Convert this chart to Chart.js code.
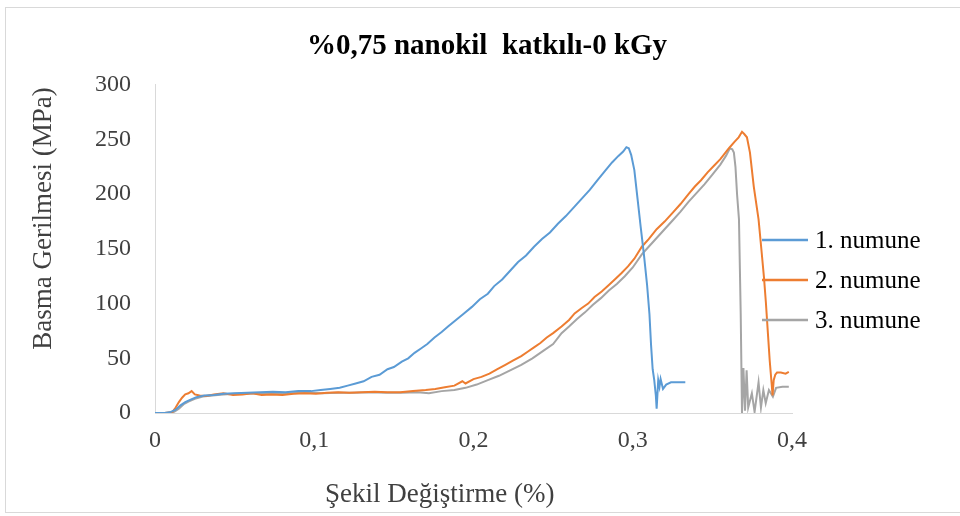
<!DOCTYPE html>
<html>
<head>
<meta charset="utf-8">
<script src="https://cdn.jsdelivr.net/npm/chart.js@4"></script>
<style>
body{margin:0;background:#fff;}
#wrap{position:relative;width:960px;height:516px;overflow:hidden;}
#frame{position:absolute;left:5px;top:7px;width:980px;height:504px;border:1px solid #d9d9d9;}
#c{position:absolute;left:0;top:0;}
</style>
</head>
<body>
<div id="wrap">
<div id="frame"></div>
<canvas id="c" width="960" height="516"></canvas>
</div>
<script>
var titleText = '%0,75 nanokil  katkılı-0 kGy';
var xTitle = 'Şekil Değiştirme (%)';
var yTitle = 'Basma Gerilmesi (MPa)';
var seriesNames = ['1. numune', '2. numune', '3. numune'];
var seriesColors = ['#5B9BD5', '#ED7D31', '#A5A5A5'];
var xTickLabels = ['0', '0,1', '0,2', '0,3', '0,4'];
var yTicks = [0, 50, 100, 150, 200, 250, 300];

// 1. numune
var strain1 = [0,0.006,0.010,0.013,0.016,0.019,0.022,0.026,0.031,0.037,0.043,0.050,0.058,0.066,0.074,0.082,0.090,0.098,0.104,0.110,
  0.116,0.121,0.126,0.131,0.136,0.141,0.146,0.150,0.155,0.159,0.163,0.167,0.171,0.1755,0.180,0.184,0.189,0.194,0.199,0.204,
  0.209,0.213,0.218,0.223,0.228,0.233,0.238,0.243,0.248,0.253,0.258,0.263,0.268,0.273,0.278,0.283,0.287,0.291,0.294,0.296,
  0.2975,0.299,0.301,0.303,0.305,0.307,0.309,0.3105,0.3115,0.3125,0.3135,0.3145,0.315,0.316,0.3168,0.3175,0.319,0.321,0.324,0.328,0.333];
var stress1 = [0,0,1,3,7,10,12,14.5,16,16.5,17.5,18,18.5,19,19.5,19,20,20,21,22,
  23,25,27,29,33,35,40,42,47,50,55,59,63,69,74,79,85,91,97,104,
  109,116,122,130,138,144,152,159,165,173,180,188,196,204,213,222,229,235,239,243,
  242,236,222,196,170,145,117,90,62,40,30,16,4,30,24,31,22,26,28,28,28];

// 2. numune
var strain2 = [0,0.006,0.011,0.013,0.015,0.017,0.019,0.021,0.023,0.025,0.028,0.032,0.037,0.043,0.049,0.055,0.061,0.067,0.073,0.080,
  0.087,0.094,0.101,0.108,0.115,0.122,0.130,0.138,0.146,0.154,0.162,0.170,0.176,0.182,0.188,0.193,0.195,0.200,0.205,0.210,
  0.215,0.220,0.225,0.230,0.234,0.238,0.242,0.246,0.250,0.2553,0.260,0.2635,0.268,0.272,0.276,0.2805,0.285,0.2887,0.293,0.297,
  0.301,0.3057,0.310,0.315,0.320,0.325,0.330,0.335,0.339,0.343,0.347,0.351,0.355,0.3604,0.364,0.3665,0.3686,0.370,0.3717,0.3736,
  0.376,0.379,0.381,0.3824,0.3836,0.385,0.386,0.3872,0.3878,0.3885,0.3895,0.3906,0.393,0.396,0.398];
var stress2 = [0,0,1,5,10,14,17,18,20,17,16,15.5,17,18,16.5,17,18,16.5,17,16.5,
  17.5,18,17.5,18.5,19,18.5,19,19.5,19,19,20,21,22,23.5,25,29,27,31,33,36,
  40,44,48,52,56,60,64,69,73,79,85,91,96,100,106,111,117,122,128,134,
  141,152,159,168,175,183,191,200,207,213,220,226,232,242,248,252,257,255,252,238,
  207,177,146,124,101,70,48,27,16,30,35,37,37,36,37.5];

// 3. numune
var strain3 = [0,0.008,0.012,0.015,0.018,0.021,0.025,0.030,0.036,0.043,0.050,0.058,0.066,0.075,0.085,0.095,0.105,0.115,0.125,0.135,
  0.145,0.155,0.165,0.172,0.180,0.188,0.195,0.202,0.209,0.216,0.223,0.230,0.237,0.244,0.250,0.2553,0.260,0.265,0.270,0.275,
  0.280,0.285,0.290,0.295,0.300,0.3057,0.310,0.315,0.320,0.325,0.330,0.335,0.340,0.345,0.350,0.355,0.3585,0.361,0.3625,0.3635,
  0.3645,0.3655,0.3667,0.3678,0.3686,0.3695,0.3705,0.3715,0.3725,0.3748,0.3765,0.379,0.3805,0.382,0.3835,0.3855,0.388,0.390,
  0.394,0.398];
var stress3 = [0,0,1,4,8,10.5,13,15,16,17,17.5,17.5,18,18,18,18.5,18,18.5,18.5,19,
  18.5,18.5,19,18,20,21,23,26,30,34,39,44,50,57,63,73,79,86,92,99,
  105,112,118,125,133,145,152,160,168,176,184,193,201,209,218,227,235,242,241,238,
  225,200,177,90,0,41,2,39,5,18,1,28,5,21,9,21,15,23,
  24,24];

function pts(xs, ys) {
  var out = [];
  for (var i = 0; i < xs.length; i++) out.push({x: xs[i], y: ys[i]});
  return out;
}

var serif = "'Liberation Serif', 'Times New Roman', serif";

var legendPlugin = {// sağdaki açıklama, çizim alanının üstüne biniyor
  id: 'sideLegend',
  afterDatasetsDraw: function(chart) {
    var ctx = chart.ctx;
    var x0 = chart.chartArea.right - 30;
    ctx.save();
    chart.data.datasets.forEach(function(ds, i) {
      var y = 240 + i * 40;
      ctx.beginPath();
      ctx.moveTo(x0, y);
      ctx.lineTo(x0 + 46, y);
      ctx.lineWidth = 2.5;
      ctx.strokeStyle = ds.borderColor;
      ctx.stroke();
      ctx.fillStyle = '#000';
      ctx.font = '25px ' + serif;
      ctx.textBaseline = 'middle';
      ctx.textAlign = 'left';
      ctx.fillText(ds.label, x0 + 53, y + 1);
    });
    ctx.restore();
  }
};

var datasets = [];
var xsAll = [strain1, strain2, strain3];
var ysAll = [stress1, stress2, stress3];
for (var k = 0; k < 3; k++) {
  datasets.push({
    label: seriesNames[k],
    data: pts(xsAll[k], ysAll[k]),
    borderColor: seriesColors[k],
    backgroundColor: seriesColors[k],
    borderWidth: 2,
    pointRadius: 0,
    tension: 0,
    fill: false
  });
}

var chart = new Chart(document.getElementById('c').getContext('2d'), {
  type: 'line',
  data: {datasets: datasets},
  options: {
    responsive: false,
    animation: false,
    layout: {padding: {left: 14, right: 0, top: 0, bottom: 0}},
    plugins: {
      legend: {display: false},
      tooltip: {enabled: false},
      title: {
        display: true,
        text: titleText,
        color: '#000',
        font: {family: serif, size: 29, weight: 'bold'},
        padding: {top: 29, bottom: 21}
      }
    },
    scales: {
      x: {
        type: 'linear',
        min: 0,
        max: 0.4,
        grid: {display: false, drawTicks: false},
        border: {display: true, color: '#d9d9d9', width: 1},
        ticks: {
          stepSize: 0.1,
          padding: 13,
          color: '#404040',
          font: {family: serif, size: 24},
          callback: function(v, i) { return xTickLabels[i]; }
        },
        title: {
          display: true,
          text: xTitle + '          ',
          color: '#404040',
          font: {family: serif, size: 27},
          padding: {top: 0, bottom: 5}
        },
        afterFit: function(s) { s.height = 103; }
      },
      y: {
        min: 0,
        max: 300,
        grid: {display: false, drawTicks: false},
        border: {display: true, color: '#d9d9d9', width: 1},
        ticks: {
          stepSize: 50,
          padding: 24,
          color: '#404040',
          font: {family: serif, size: 24},
          callback: function(v, i) { return String(yTicks[i]); }
        },
        title: {
          display: true,
          text: '         ' + yTitle,
          color: '#404040',
          font: {family: serif, size: 27},
          padding: {top: 14, bottom: 0}
        },
        afterFit: function(s) { s.width = 141; }
      },
      // sağda açıklama için boş yer
      side: {
        position: 'right',
        display: true,
        grid: {display: false, drawTicks: false},
        border: {display: false},
        ticks: {display: false},
        afterFit: function(s) { s.width = 168; }
      }
    }
  },
  plugins: [legendPlugin]
});
</script>
</body>
</html>
